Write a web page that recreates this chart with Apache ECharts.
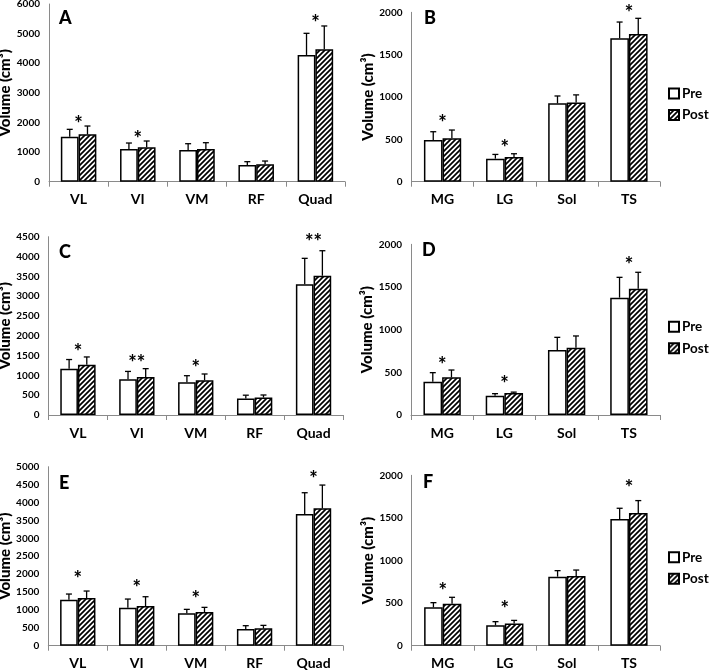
<!DOCTYPE html>
<html>
<head>
<meta charset="utf-8">
<script src="https://cdn.jsdelivr.net/npm/echarts@6/dist/echarts.min.js"></script>
<style>
html,body{margin:0;padding:0;background:#fff;}
#chart{width:709px;height:670px;}
</style>
</head>
<body>
<div id="chart"></div>
<script>
// ---------- data ----------
const thighMuscles = ['VL', 'VI', 'VM', 'RF', 'Quad'];
const calfMuscles = ['MG', 'LG', 'Sol', 'TS'];
const seriesNames = ['Pre', 'Post'];
const yAxisTitle = 'Volume (cm³)';
const panelLetters = ['A', 'B', 'C', 'D', 'E', 'F'];

const A_pre = [1520, 1103, 1070, 563, 4279];
const A_preErr = [248, 203, 213, 113, 731];
const A_post = [1599, 1160, 1103, 585, 4470];
const A_postErr = [281, 214, 214, 113, 788];
const A_sig = ['*', '*', '', '', '*'];
const A_sigAt = [2105, 1576, null, null, 5495];

const B_pre = [492, 272, 925, 1693];
const B_preErr = [98, 50, 87, 192];
const B_post = [512, 292, 935, 1744];
const B_postErr = [98, 38, 90, 185];
const B_sig = ['*', '*', '', '*'];
const B_sigAt = [740, 453, null, 2039];

const C_pre = [1170, 900, 825, 415, 3298];
const C_preErr = [230, 200, 167, 85, 656];
const C_post = [1270, 960, 875, 440, 3515];
const C_postErr = [195, 210, 160, 65, 631];
const C_sig = ['*', '**', '*', '', '**'];
const C_sigAt = [1708, 1420, 1287, null, 4474];

const D_pre = [391, 225, 762, 1375];
const D_preErr = [105, 25, 148, 238];
const D_post = [441, 258, 789, 1480];
const D_postErr = [86, 10, 137, 192];
const D_sig = ['*', '*', '', '*'];
const D_sigAt = [637, 410, null, 1808];

const E_pre = [1285, 1061, 903, 465, 3677];
const E_preErr = [158, 242, 112, 94, 596];
const E_post = [1331, 1108, 940, 484, 3836];
const E_postErr = [196, 260, 131, 84, 651];
const E_sig = ['*', '*', '*', '', '*'];
const E_sigAt = [1974, 1750, 1434, null, 4767];

const F_pre = [450, 239, 810, 1487];
const F_preErr = [55, 43, 71, 126];
const F_post = [493, 262, 818, 1558];
const F_postErr = [75, 35, 70, 145];
const F_sig = ['*', '*', '', '*'];
const F_sigAt = [693, 481, null, 1906];

const yMax = [6000, 2000, 4500, 2000, 5000, 2000];
const yStep = [1000, 500, 500, 500, 500, 500];

// ---------- build ----------
const FONT = 'Lato';
function hatch() {
  const s = 5;
  const c = document.createElement('canvas');
  c.width = s; c.height = s;
  const g = c.getContext('2d');
  g.fillStyle = '#fff'; g.fillRect(0, 0, s, s);
  g.strokeStyle = '#000'; g.lineWidth = 1.7;
  g.beginPath();
  g.moveTo(-1, s + 1); g.lineTo(s + 1, -1);
  g.moveTo(-s / 2 - 1, s / 2 + 1); g.lineTo(s / 2 + 1, -s / 2 - 1);
  g.moveTo(s / 2 - 1, s * 1.5 + 1); g.lineTo(s * 1.5 + 1, s / 2 - 1);
  g.stroke();
  return c;
}
const hatchPattern = { image: hatch(), repeat: 'repeat' };

const panels = [
  { cats: thighMuscles, pre: A_pre, preErr: A_preErr, post: A_post, postErr: A_postErr, sig: A_sig, sigAt: A_sigAt,
    grid: { left: 49, top: 4, width: 296, height: 177.7 }, letter: { left: 59, top: 9 } },
  { cats: calfMuscles, pre: B_pre, preErr: B_preErr, post: B_post, postErr: B_postErr, sig: B_sig, sigAt: B_sigAt,
    grid: { left: 411.5, top: 12.3, width: 248.5, height: 169.4 }, letter: { left: 424, top: 9 }, legendTop: 86.5 },
  { cats: thighMuscles, pre: C_pre, preErr: C_preErr, post: C_post, postErr: C_postErr, sig: C_sig, sigAt: C_sigAt,
    grid: { left: 48.5, top: 236.7, width: 294.5, height: 178.3 }, letter: { left: 59, top: 243 } },
  { cats: calfMuscles, pre: D_pre, preErr: D_preErr, post: D_post, postErr: D_postErr, sig: D_sig, sigAt: D_sigAt,
    grid: { left: 411, top: 244.3, width: 249, height: 170.7 }, letter: { left: 422, top: 241 }, legendTop: 319.7 },
  { cats: thighMuscles, pre: E_pre, preErr: E_preErr, post: E_post, postErr: E_postErr, sig: E_sig, sigAt: E_sigAt,
    grid: { left: 48.3, top: 466.7, width: 294.7, height: 179 }, letter: { left: 59, top: 474 } },
  { cats: calfMuscles, pre: F_pre, preErr: F_preErr, post: F_post, postErr: F_postErr, sig: F_sig, sigAt: F_sigAt,
    grid: { left: 411.7, top: 475.3, width: 248.3, height: 170.4 }, letter: { left: 423, top: 473 }, legendTop: 550.3 }
];

const grids = [], xAxes = [], yAxes = [], series = [], titles = [], legends = [];
const axisGray = '#8a8a8a';

panels.forEach((p, i) => {
  grids.push(Object.assign({ containLabel: false, outerBoundsMode: 'none' }, p.grid));
  xAxes.push({
    type: 'category', gridIndex: i, data: p.cats,
    axisLine: { show: true, lineStyle: { color: axisGray, width: 1 } },
    axisTick: { show: true, length: 5, alignWithLabel: false, lineStyle: { color: axisGray } },
    axisLabel: { color: '#000', fontFamily: FONT, fontWeight: 'bold', fontSize: 14, margin: 11 },
    splitLine: { show: false }
  });
  yAxes.push({
    type: 'value', gridIndex: i, min: 0, max: yMax[i], interval: yStep[i],
    name: yAxisTitle, nameLocation: 'middle', nameGap: 33, nameRotate: 90,
    nameTextStyle: { color: '#000', fontFamily: FONT, fontWeight: 900, fontSize: 15 },
    axisLine: { show: true, lineStyle: { color: axisGray, width: 1 } },
    axisTick: { show: false },
    axisLabel: { color: '#000', fontFamily: FONT, fontWeight: 'bold', fontSize: 10, margin: 9,
      formatter: function (v) { return String(v); } },
    splitLine: { show: false }
  });
  series.push({
    name: seriesNames[0], type: 'bar', xAxisIndex: i, yAxisIndex: i, data: p.pre,
    barWidth: '30%', barGap: '0%',
    itemStyle: { color: '#fff', borderColor: '#000', borderWidth: 1.5 }
  });
  series.push({
    name: seriesNames[1], type: 'bar', xAxisIndex: i, yAxisIndex: i, data: p.post,
    barWidth: '30%', barGap: '0%',
    itemStyle: { color: hatchPattern, borderColor: '#000', borderWidth: 1.5 }
  });
  const errData = [];
  p.pre.forEach((v, k) => errData.push([k, v, p.preErr[k], -1]));
  p.post.forEach((v, k) => errData.push([k, v, p.postErr[k], 1]));
  series.push({
    type: 'custom', xAxisIndex: i, yAxisIndex: i, data: errData, silent: true, z: 3,
    renderItem: function (params, api) {
      const k = api.value(0), v = api.value(1), e = api.value(2), side = api.value(3);
      const band = api.size([1, 0])[0];
      const p0 = api.coord([k, v]);
      const p1 = api.coord([k, v + e]);
      const x = p0[0] + side * band * 0.15;
      const st = { stroke: '#000', lineWidth: 1.3 };
      return { type: 'group', children: [
        { type: 'line', shape: { x1: x, y1: p0[1], x2: x, y2: p1[1] }, style: st },
        { type: 'line', shape: { x1: x - 3, y1: p1[1], x2: x + 3, y2: p1[1] }, style: st }
      ] };
    }
  });
  const sigData = [], sigText = [];
  p.sig.forEach((s, k) => { if (s) { sigData.push([k, p.sigAt[k]]); sigText.push(s); } });
  series.push({
    type: 'custom', xAxisIndex: i, yAxisIndex: i, data: sigData, silent: true, z: 4,
    renderItem: function (params, api) {
      const pt = api.coord([api.value(0), api.value(1)]);
      return { type: 'text', x: pt[0], y: pt[1] + 5, style: {
        text: sigText[params.dataIndex], fill: '#000', font: '900 20px ' + FONT,
        align: 'center', verticalAlign: 'middle' } };
    }
  });
  titles.push({ text: panelLetters[i], left: p.letter.left, top: p.letter.top, padding: 0,
    textStyle: { color: '#000', fontFamily: FONT, fontWeight: 900, fontSize: 18 } });
  if (p.legendTop !== undefined) {
    legends.push({ data: seriesNames, orient: 'vertical', left: 668, top: p.legendTop, padding: 0,
      icon: 'rect', itemWidth: 10, itemHeight: 10, itemGap: 7.5, selectedMode: false,
      textStyle: { color: '#000', fontFamily: FONT, fontWeight: 'bold', fontSize: 13.5, lineHeight: 14, padding: [0, 0, 0, -2] } });
  }
});

const chart = echarts.init(document.getElementById('chart'), null, { renderer: 'canvas' });
chart.setOption({
  backgroundColor: '#fff',
  animation: false,
  title: titles,
  legend: legends,
  grid: grids,
  xAxis: xAxes,
  yAxis: yAxes,
  series: series
});
</script>
</body>
</html>
